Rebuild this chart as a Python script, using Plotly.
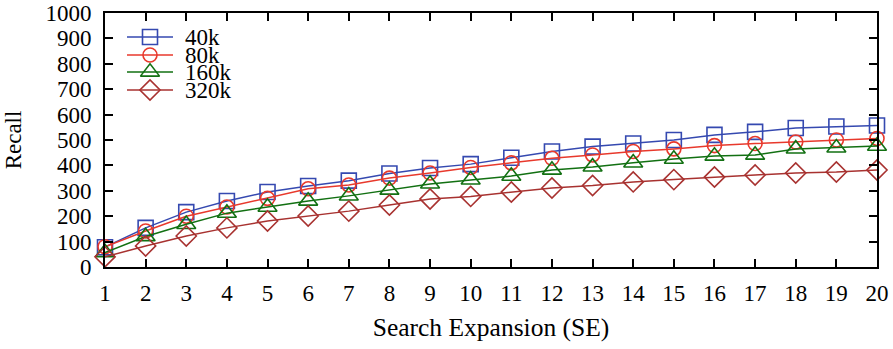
import plotly.graph_objects as go

se = list(range(1, 21))
recall_40k = [78, 154, 216, 260, 295, 319, 340, 368, 390, 405, 430, 455, 474, 486, 500, 520, 532, 547, 553, 557]
recall_80k = [80, 142, 200, 236, 270, 308, 323, 350, 370, 392, 410, 428, 441, 455, 465, 478, 486, 492, 500, 506]
recall_160k = [57, 120, 168, 212, 236, 260, 280, 303, 327, 343, 358, 382, 394, 410, 425, 437, 441, 465, 469, 476]
recall_320k = [40, 83, 122, 154, 181, 201, 220, 244, 268, 278, 295, 311, 321, 335, 344, 354, 362, 370, 374, 382]
series_names = ["40k", "80k", "160k", "320k"]
y_ticks = list(range(0, 1001, 100))

colors = ["#3549b0", "#e8392c", "#127012", "#a83230"]
symbols = ["square-open", "circle-open", "triangle-up-open", "diamond-open"]
sizes = [15, 14, 16.5, 15.5]
font = "Liberation Serif"
fs = 23

W, H = 893, 349
ML, MR, MT, MB = 105, 16, 13, 82
PW, PH = W - ML - MR, H - MT - MB

fig = go.Figure()
for name, ys, c, s, sz in zip(series_names, [recall_40k, recall_80k, recall_160k, recall_320k], colors, symbols, sizes):
    fig.add_trace(go.Scatter(
        x=se, y=ys, name=name, mode="lines+markers", showlegend=False,
        line=dict(color=c, width=1.5),
        marker=dict(symbol=s, size=sz, color=c, line=dict(color=c, width=1.6)),
        cliponaxis=False,
    ))

# legend key drawn on a pixel-unit overlay axis
leg_rows = [24, 42, 59, 77]
leg_x0, leg_x1, leg_text = 22, 68, 78
for name, c, s, sz, ry in zip(series_names, colors, symbols, sizes, leg_rows):
    fig.add_trace(go.Scatter(
        x=[leg_x0, (leg_x0 + leg_x1) / 2, leg_x1], y=[ry, ry, ry],
        xaxis="x2", yaxis="y2", mode="lines", showlegend=False, hoverinfo="skip",
        line=dict(color=c, width=1.5), cliponaxis=False,
    ))
    fig.add_trace(go.Scatter(
        x=[(leg_x0 + leg_x1) / 2], y=[ry],
        xaxis="x2", yaxis="y2", mode="markers", showlegend=False, hoverinfo="skip",
        marker=dict(symbol=s, size=sz, color=c, line=dict(color=c, width=1.6)),
        cliponaxis=False,
    ))
    fig.add_annotation(x=leg_text, y=ry, xref="x2", yref="y2", text=name,
                       showarrow=False, xanchor="left", yanchor="middle",
                       font=dict(family=font, size=fs, color="black"))

fig.update_layout(
    width=W, height=H,
    margin=dict(l=ML, r=MR, t=MT, b=MB, autoexpand=False),
    paper_bgcolor="white", plot_bgcolor="white",
    font=dict(family=font, size=fs, color="black"),
    showlegend=False,
    xaxis=dict(
        range=[1, 20], tickmode="array", tickvals=se, ticktext=[str(v) for v in se],
        ticks="inside", ticklen=8, tickwidth=1.5, tickcolor="black",
        showline=True, linecolor="black", linewidth=2, mirror="ticks",
        showgrid=False, zeroline=False, ticklabelstandoff=4, automargin=False,
        tickfont=dict(family=font, size=fs),
        title=dict(text="Search Expansion (SE)", standoff=14, font=dict(family=font, size=25.5)),
    ),
    yaxis=dict(
        range=[0, 1000], tickmode="array", tickvals=y_ticks,
        ticks="inside", ticklen=8, tickwidth=1.5, tickcolor="black",
        showline=True, linecolor="black", linewidth=2, mirror="ticks",
        showgrid=False, zeroline=False, ticklabelstandoff=7, automargin=False,
        tickfont=dict(family=font, size=fs),
        title=dict(text="Recall", standoff=17, font=dict(family=font, size=fs)),
    ),
    xaxis2=dict(overlaying="x", anchor="y2", range=[0, PW], visible=False, fixedrange=True),
    yaxis2=dict(overlaying="y", anchor="x2", range=[PH, 0], visible=False, fixedrange=True),
)

fig.write_html("out.html", config={"displayModeBar": False},
               post_script="document.body.style.margin='0px';")
